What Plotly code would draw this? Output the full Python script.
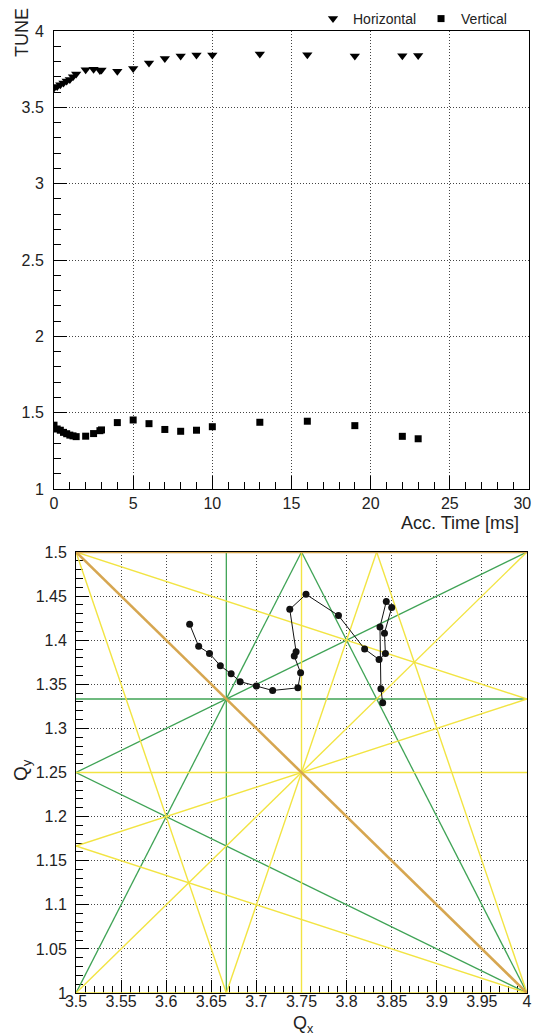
import plotly.graph_objects as go

# ---------------- data ----------------
acc_time_ms = [0.0, 0.2, 0.4, 0.6, 0.8, 1.0, 1.2, 1.4, 2.0, 2.5, 2.9, 3.0,
               4.0, 5.0, 6.0, 7.0, 8.0, 9.0, 10.0, 13.0, 16.0, 19.0, 22.0, 23.0]
tune_horizontal = [3.626, 3.636, 3.648, 3.660, 3.672, 3.682, 3.700, 3.718,
                   3.746, 3.749, 3.742, 3.744, 3.737, 3.755, 3.791, 3.820,
                   3.836, 3.843, 3.842, 3.850, 3.844, 3.837, 3.838, 3.840]
tune_vertical = [1.418, 1.393, 1.385, 1.371, 1.362, 1.353, 1.348, 1.343,
                 1.346, 1.363, 1.382, 1.387, 1.435, 1.452, 1.428, 1.390,
                 1.378, 1.385, 1.408, 1.437, 1.444, 1.415, 1.345, 1.329]

# resonance lines  m*Qx + n*Qy = p
res_order2 = [(0, 2, 3), (1, 1, 5)]
res_order3 = [(3, 0, 11), (0, 3, 4), (1, 2, 6), (1, -2, 1), (2, 1, 9), (2, -1, 6)]
res_order4 = [(4, 0, 15), (0, 4, 5), (0, 4, 4), (3, 1, 12), (3, 1, 13), (3, -1, 10),
              (1, 3, 7), (1, 3, 8), (1, -3, 0), (2, -2, 5)]

top_x_ticks = [0, 5, 10, 15, 20, 25, 30]
top_x_labels = ["0", "5", "10", "15", "20", "25", "30\u00a0\u00a0\u00a0"]
top_y_ticks = [1, 1.5, 2, 2.5, 3, 3.5, 4]

QX_RANGE = (3.5, 4.0)
QY_RANGE = (1.0, 1.5)

# ---------------- helpers ----------------
W, H = 536, 1035
FONT = "Liberation Sans, Arial, Helvetica, sans-serif"
TXT = "#222"


def segment(m, n, p):
    x0, x1 = QX_RANGE
    y0, y1 = QY_RANGE
    eps = 1e-9
    pts = []
    if n != 0:
        for x in (x0, x1):
            y = (p - m * x) / n
            if y0 - eps <= y <= y1 + eps:
                pts.append((x, y))
    if m != 0:
        for y in (y0, y1):
            x = (p - n * y) / m
            if x0 - eps <= x <= x1 + eps:
                pts.append((x, y))
    uniq = []
    for q in pts:
        if all(abs(q[0] - u[0]) > 1e-7 or abs(q[1] - u[1]) > 1e-7 for u in uniq):
            uniq.append(q)
    if len(uniq) < 2:
        return None
    a = uniq[0]
    b = max(uniq[1:], key=lambda q: (q[0] - a[0]) ** 2 + (q[1] - a[1]) ** 2)
    return a, b


def lines_trace(res, color, width):
    xs, ys = [], []
    for m, n, p in res:
        s = segment(m, n, p)
        if s is None:
            continue
        xs += [s[0][0], s[1][0], None]
        ys += [s[0][1], s[1][1], None]
    return go.Scatter(x=xs, y=ys, mode="lines", xaxis="x2", yaxis="y2",
                      line=dict(color=color, width=width), showlegend=False,
                      hoverinfo="skip")


fig = go.Figure()

# top chart
fig.add_trace(go.Scatter(x=acc_time_ms, y=tune_horizontal, mode="markers", name="Horizontal",
                         marker=dict(symbol="triangle-down", size=9, color="black"),
                         xaxis="x", yaxis="y"))
fig.add_trace(go.Scatter(x=acc_time_ms, y=tune_vertical, mode="markers", name="Vertical",
                         marker=dict(symbol="square", size=7, color="black"),
                         xaxis="x", yaxis="y"))

# bottom chart: resonance lines
fig.add_trace(lines_trace(res_order3, "#3fa355", 1.3))
fig.add_trace(lines_trace(res_order4, "#f2e443", 1.4))
fig.add_trace(lines_trace(res_order2, "#d6a650", 2.6))

# tune footprint
fig.add_trace(go.Scatter(x=tune_horizontal, y=tune_vertical, mode="lines+markers",
                         line=dict(color="#111", width=1),
                         marker=dict(symbol="circle", size=7, color="#111"),
                         xaxis="x2", yaxis="y2", showlegend=False))


def axis(rng, dtick, minor_dtick, domain, anchor, standoff, tickvals=None, ticktext=None,
         layer="above traces"):
    d = dict(range=list(rng), domain=domain, anchor=anchor, automargin=False,
             showline=True, linecolor="black", linewidth=1, mirror=True,
             ticks="inside", ticklen=13, tickwidth=1, tickcolor="black",
             showgrid=True, gridcolor="#444", griddash="1px,2px", gridwidth=1,
             zeroline=False, layer=layer, ticklabeloverflow="allow",
             tickfont=dict(size=16, color=TXT, family=FONT),
             ticklabelstandoff=standoff,
             minor=dict(dtick=minor_dtick, ticks="inside", ticklen=7,
                        tickcolor="black", tickwidth=1, showgrid=False))
    if tickvals is not None:
        d["tickmode"] = "array"
        d["tickvals"] = tickvals
        if ticktext is not None:
            d["ticktext"] = ticktext
    else:
        d["dtick"] = dtick
        d["tick0"] = rng[0]
    return d


top_dom_x = [54 / W, 529 / W]
top_dom_y = [1 - 489 / H, 1 - 31 / H]
bot_dom_x = [76 / W, 527 / W]
bot_dom_y = [1 - 993 / H, 1 - 552 / H]

fig.update_layout(
    width=W, height=H,
    margin=dict(l=0, r=0, t=0, b=0, autoexpand=False),
    paper_bgcolor="white", plot_bgcolor="white",
    font=dict(family=FONT, color=TXT),
    xaxis=axis((0, 30), 5, 1, top_dom_x, "y", 0, tickvals=top_x_ticks, ticktext=top_x_labels),
    yaxis=axis((1, 4), 0.5, 0.1, top_dom_y, "x", 6, tickvals=top_y_ticks),
    xaxis2=axis(QX_RANGE, 0.05, 0.01, bot_dom_x, "y2", -6, layer="below traces"),
    yaxis2=axis(QY_RANGE, 0.05, 0.01, bot_dom_y, "x2", 5, layer="below traces"),
    legend=dict(orientation="h", x=512 / W, xanchor="right", y=1 - 19 / H, yanchor="middle",
                font=dict(size=14, family=FONT, color=TXT), bgcolor="rgba(0,0,0,0)",
                itemwidth=30, tracegroupgap=0),
    showlegend=True,
)

fig.add_annotation(text="Acc. Time [ms]", x=521 / W, y=1 - 523 / H, xref="paper", yref="paper",
                   xanchor="right", yanchor="middle", showarrow=False,
                   font=dict(size=18, family=FONT, color=TXT))
fig.add_annotation(text="TUNE", x=22 / W, y=1 - 33 / H, xref="paper", yref="paper",
                   xanchor="center", yanchor="middle", showarrow=False, textangle=-90,
                   font=dict(size=18, family=FONT, color=TXT))
fig.add_annotation(text="Q<sub>x</sub>", x=303 / W, y=1 - 1024 / H, xref="paper", yref="paper",
                   xanchor="center", yanchor="middle", showarrow=False,
                   font=dict(size=18, family=FONT, color=TXT))
fig.add_annotation(text="Q<sub>y</sub>", x=22 / W, y=1 - 770 / H, xref="paper", yref="paper",
                   xanchor="center", yanchor="middle", showarrow=False, textangle=-90,
                   font=dict(size=19, family=FONT, color=TXT))

fig.write_html("out.html", config={"displayModeBar": False},
               post_script="document.body.style.margin='0';document.body.style.overflow='hidden';")
